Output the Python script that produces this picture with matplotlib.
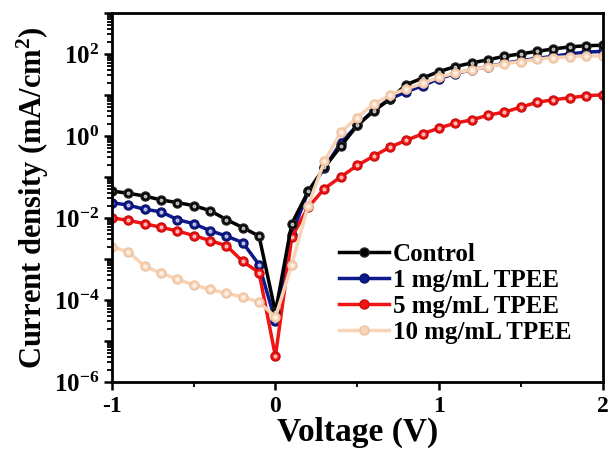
import numpy as np
import matplotlib
matplotlib.use('Agg')
import matplotlib.pyplot as plt
from matplotlib.ticker import LogLocator, FixedLocator, FuncFormatter, NullFormatter

plt.rcParams['font.family'] = 'Liberation Serif'
plt.rcParams['font.weight'] = 'bold'
plt.rcParams['mathtext.fontset'] = 'custom'
plt.rcParams['mathtext.rm'] = 'Liberation Serif:bold'
plt.rcParams['mathtext.bf'] = 'Liberation Serif:bold'
plt.rcParams['mathtext.default'] = 'bf'
plt.rcParams['axes.unicode_minus'] = False

voltage = [-1.0, -0.9, -0.8, -0.7, -0.6, -0.5, -0.4, -0.3, -0.2, -0.1, 0.0,
           0.1, 0.2, 0.3, 0.4, 0.5, 0.6, 0.7, 0.8, 0.9, 1.0,
           1.1, 1.2, 1.3, 1.4, 1.5, 1.6, 1.7, 1.8, 1.9, 2.0]

control = [4.5e-2, 4.0e-2, 3.4e-2, 2.75e-2, 2.35e-2, 2.0e-2, 1.5e-2, 9.1e-3, 5.8e-3, 3.6e-3, 5.0e-5,
           7.2e-3, 4.4e-2, 0.17, 0.56, 1.8, 4.0, 7.9, 17.8, 25.7, 37,
           49, 60, 72, 87, 100, 115, 132, 148, 158, 162]
tpee1 = [2.35e-2, 2.05e-2, 1.62e-2, 1.41e-2, 9.1e-3, 7.2e-3, 4.9e-3, 3.6e-3, 2.5e-3, 7.2e-4, 3.0e-5,
         3.9e-3, 4.4e-2, 0.166, 0.68, 1.8, 4.2, 7.9, 12, 16.6, 25,
         33, 41, 49, 59, 68, 78, 87, 100, 110, 115]
tpee5 = [1.0e-2, 8.7e-3, 7.2e-3, 5.9e-3, 4.8e-3, 3.7e-3, 2.8e-3, 2.1e-3, 8.7e-4, 4.6e-4, 4.2e-6,
         3.4e-3, 1.8e-2, 5.2e-2, 0.10, 0.19, 0.32, 0.53, 0.78, 1.12, 1.55,
         2.05, 2.45, 3.2, 3.8, 5.0, 6.6, 7.6, 8.5, 9.5, 10.0]
tpee10 = [1.95e-3, 1.5e-3, 6.6e-4, 4.5e-4, 3.2e-4, 2.3e-4, 1.8e-4, 1.45e-4, 1.17e-4, 8.9e-5, 3.8e-5,
          7.2e-4, 2.0e-2, 0.24, 1.23, 2.8, 5.9, 9.8, 14, 19, 27,
          34, 41, 49, 57, 65, 74, 81, 85, 89, 89]

labels = ['Control', '1 mg/mL TPEE', '5 mg/mL TPEE', '10 mg/mL TPEE']
colors = ['#000000', '#0d1a8c', '#f01414', '#f8d4b6']
edges = ['#222222', '#0a126a', '#c80a0a', '#eec2a0']

fig = plt.figure(figsize=(6.08, 4.59), dpi=100)
ax = fig.add_axes([0.184, 0.168, 0.807, 0.804])

series = [control, tpee1, tpee5, tpee10]
handles = [None] * 4
for i in [1, 2, 0, 3]:
    h, = ax.plot(voltage, series[i], '-o', color=colors[i], lw=2.5, ms=6.5,
                 mfc=colors[i], mec=edges[i], mew=1.0, label=labels[i])
    ax.plot(voltage, series[i], 'o', color='white', ms=2, alpha=0.6)
    handles[i] = h

ax.set_yscale('log')
ax.set_xlim(-1, 2)
ax.set_ylim(1e-6, 1e3)

ax.yaxis.set_major_locator(LogLocator(base=10, numticks=20))
ax.yaxis.set_minor_locator(LogLocator(base=10, subs=np.arange(2, 10), numticks=20))
ax.yaxis.set_minor_formatter(NullFormatter())


def ylab(v, pos):
    e = int(round(np.log10(v)))
    if e % 2:
        return ''
    return r'$10^{%d}$' % e


ax.yaxis.set_major_formatter(FuncFormatter(ylab))
ax.xaxis.set_major_locator(FixedLocator([-1, 0, 1, 2]))
ax.xaxis.set_minor_locator(FixedLocator([-0.5, 0.5, 1.5]))
ax.set_xticklabels(['-1', '0', '1', '2'])

ax.tick_params(which='both', direction='out', top=False, right=False, width=1.8)
ax.tick_params(which='major', length=6)
ax.tick_params(axis='y', which='major', labelsize=18, pad=3)
ax.tick_params(axis='x', which='major', labelsize=17, pad=4)
ax.tick_params(which='minor', length=3.5, width=1.3)
for s in ax.spines.values():
    s.set_linewidth(2)

ax.set_xlabel('Voltage (V)', fontsize=24, fontweight='bold', labelpad=0)
ax.set_ylabel('Current density (mA/cm$^2$)', fontsize=22, fontweight='bold', labelpad=2)

ax.legend(handles=handles, loc='lower right', bbox_to_anchor=(0.957, 0.075), frameon=False,
          fontsize=18, handlelength=2.0, handletextpad=0.15, labelspacing=0.12, borderaxespad=0)

fig.savefig('out.png', dpi=100)
